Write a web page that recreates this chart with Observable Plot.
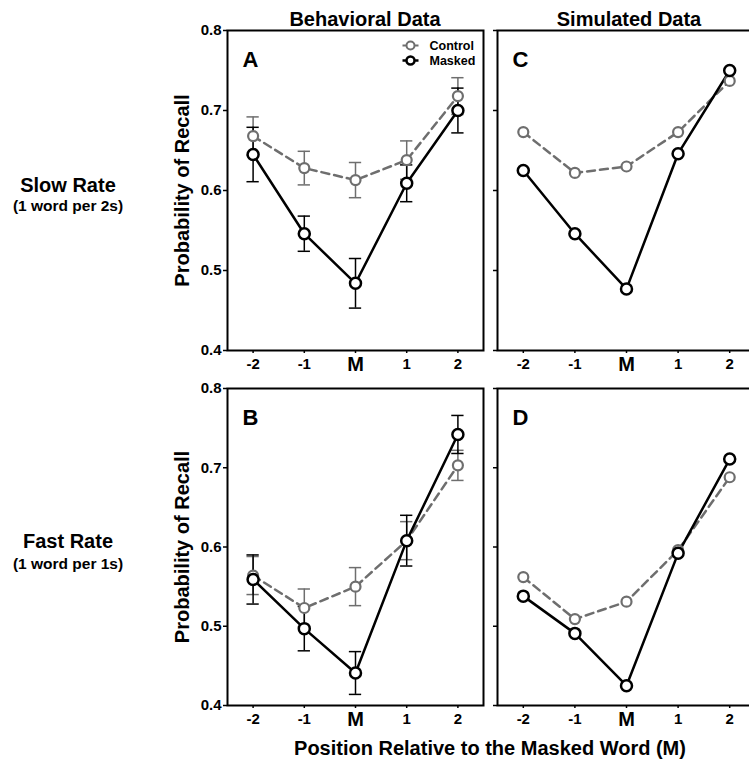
<!DOCTYPE html>
<html><head><meta charset="utf-8">
<script src="https://cdn.jsdelivr.net/npm/d3@7"></script>
<script src="https://cdn.jsdelivr.net/npm/@observablehq/plot@0.6"></script>
<style>
html,body{margin:0;padding:0;background:#fff;}
#page{position:relative;width:749px;height:765px;overflow:hidden;font-family:"Liberation Sans",Arial,sans-serif;font-weight:bold;color:#000;background:#fff;}
.lbl{position:absolute;white-space:nowrap;text-align:center;line-height:1;}
.panel{position:absolute;}
</style></head><body><div id="page"></div>
<script>
// ---- data ----
const positions = [-2, -1, 0, 1, 2];
const positionLabels = ["-2", "-1", "M", "1", "2"];
const yTicks = [0.4, 0.5, 0.6, 0.7, 0.8];
const columnTitles = ["Behavioral Data", "Simulated Data"];
const rowTitles = ["Slow Rate", "Fast Rate"];
const rowSubtitles = ["(1 word per 2s)", "(1 word per 1s)"];
const panelLetters = ["A", "C", "B", "D"];
const legendLabels = ["Control", "Masked"];
const yTitle = "Probability of Recall";
const xTitle = "Position Relative to the Masked Word (M)";

// A: behavioral, slow
const slowBehavControl    = [0.668, 0.628, 0.613, 0.638, 0.718];
const slowBehavControlErr = [0.024, 0.021, 0.022, 0.024, 0.023];
const slowBehavMasked     = [0.645, 0.546, 0.484, 0.609, 0.700];
const slowBehavMaskedErr  = [0.034, 0.022, 0.031, 0.023, 0.028];
// C: simulated, slow
const slowSimControl = [0.673, 0.622, 0.630, 0.673, 0.737];
const slowSimMasked  = [0.625, 0.546, 0.477, 0.646, 0.750];
// B: behavioral, fast
const fastBehavControl    = [0.564, 0.523, 0.550, 0.608, 0.703];
const fastBehavControlErr = [0.024, 0.024, 0.024, 0.024, 0.019];
const fastBehavMasked     = [0.559, 0.497, 0.441, 0.608, 0.742];
const fastBehavMaskedErr  = [0.031, 0.028, 0.027, 0.032, 0.024];
// D: simulated, fast
const fastSimControl = [0.562, 0.509, 0.531, 0.596, 0.688];
const fastSimMasked  = [0.538, 0.491, 0.425, 0.592, 0.711];

// ---- helpers ----
const GRAY = "#6e6e6e";
const labelOf = d => positionLabels[positions.indexOf(d)];

function rowsFor(control, masked, controlErr, maskedErr) {
  const rows = [];
  positions.forEach((p, i) => {
    rows.push({pos: p, value: control[i], err: controlErr ? controlErr[i] : null, cond: "Control"});
    rows.push({pos: p, value: masked[i], err: maskedErr ? maskedErr[i] : null, cond: "Masked"});
  });
  return rows;
}

const legendSymbol = {
  draw(ctx, size) {
    const r = Math.sqrt(size / Math.PI);
    ctx.moveTo(-2 * r, 0); ctx.lineTo(-r, 0);
    ctx.moveTo(2 * r, 0); ctx.lineTo(r, 0);
    ctx.moveTo(r, 0); ctx.arc(0, 0, r, 0, 2 * Math.PI); ctx.closePath();
  }
};

const cols = [
  {left: 160, width: 330, mL: 67, mR: 7},
  {left: 490, width: 270, mL: 7, mR: 5}
];
const rowsGeom = [
  {top: 0, height: 385, mT: 30, mB: 35},
  {top: 380, height: 345, mT: 8, mB: 20}
];

function panel(rows, col, row, letter, legend) {
  const c = cols[col], r = rowsGeom[row];
  const ctrl = rows.filter(d => d.cond === "Control");
  const mask = rows.filter(d => d.cond === "Masked");
  const ctrlE = ctrl.filter(d => d.err != null);
  const maskE = mask.filter(d => d.err != null);
  const capHalf = 0.12;
  const marks = [
    Plot.frame({stroke: "#000", strokeWidth: 2}),
    Plot.axisY({ticks: yTicks, tickSize: 4, tickPadding: 2, strokeWidth: 1.5, fontSize: 15,
      tickFormat: col === 0 ? d3.format(".1f") : () => "", label: null}),
    Plot.axisX({ticks: positions.filter(p => p !== 0), tickSize: 3, tickPadding: 5, strokeWidth: 1.5,
      fontSize: 15, tickFormat: labelOf, label: null}),
    Plot.axisX({ticks: [0], tickSize: 3, tickPadding: 3, strokeWidth: 1.5,
      fontSize: 20, tickFormat: labelOf, label: null}),
    // error bars
    Plot.ruleX(ctrlE, {x: "pos", y1: d => d.value - d.err, y2: d => d.value + d.err, stroke: GRAY, strokeWidth: 1.5}),
    Plot.ruleY(ctrlE, {y: d => d.value + d.err, x1: d => d.pos - capHalf, x2: d => d.pos + capHalf, stroke: GRAY, strokeWidth: 1.5}),
    Plot.ruleY(ctrlE, {y: d => d.value - d.err, x1: d => d.pos - capHalf, x2: d => d.pos + capHalf, stroke: GRAY, strokeWidth: 1.5}),
    Plot.ruleX(maskE, {x: "pos", y1: d => d.value - d.err, y2: d => d.value + d.err, stroke: "#000", strokeWidth: 1.5}),
    Plot.ruleY(maskE, {y: d => d.value + d.err, x1: d => d.pos - capHalf, x2: d => d.pos + capHalf, stroke: "#000", strokeWidth: 1.5}),
    Plot.ruleY(maskE, {y: d => d.value - d.err, x1: d => d.pos - capHalf, x2: d => d.pos + capHalf, stroke: "#000", strokeWidth: 1.5}),
    // lines
    Plot.line(ctrl, {x: "pos", y: "value", stroke: GRAY, strokeWidth: 2.5, strokeDasharray: "8,5"}),
    Plot.line(mask, {x: "pos", y: "value", stroke: "#000", strokeWidth: 2.5}),
    // dots
    Plot.dot(ctrl, {x: "pos", y: "value", r: 5, stroke: GRAY, strokeWidth: 2.2, fill: "white"}),
    Plot.dot(mask, {x: "pos", y: "value", r: 5.5, stroke: "#000", strokeWidth: 2.5, fill: "white"}),
    // panel letter
    Plot.text([letter], {text: d => d, frameAnchor: "top-left", dx: 15, dy: 29, textAnchor: "start",
      lineAnchor: "middle", fontSize: 22, fontWeight: "bold", fill: "#000"})
  ];
  if (col === 0) {
    marks.push(Plot.text([yTitle], {text: d => d, frameAnchor: "left", rotate: -90, dx: -45,
      textAnchor: "middle", lineAnchor: "middle", fontSize: 20, fontWeight: "bold", fill: "#000"}));
  }
  if (legend) {
    legendLabels.forEach((lab, i) => {
      const dy = 15 + 15 * i;
      const isCtrl = i === 0;
      marks.push(Plot.dot([lab], {frameAnchor: "top-right", dx: -73, dy, r: 4, symbol: legendSymbol,
        stroke: isCtrl ? GRAY : "#000", strokeWidth: isCtrl ? 2 : 2.5, fill: "white"}));
      marks.push(Plot.text([lab], {text: d => d, frameAnchor: "top-right", dx: -54, dy, textAnchor: "start",
        lineAnchor: "middle", fontSize: 12.5, fontWeight: "bold", fill: "#000"}));
    });
  }
  const svg = Plot.plot({
    width: c.width, height: r.height,
    marginLeft: c.mL, marginRight: c.mR, marginTop: r.mT, marginBottom: r.mB,
    x: {type: "linear", domain: [-2.5, 2.5], label: null},
    y: {type: "linear", domain: [0.4, 0.8], label: null},
    style: {background: "transparent", overflow: "visible", fontFamily: '"Liberation Sans", Arial, sans-serif',
      fontWeight: "bold", color: "#000"},
    marks
  });
  svg.classList.add("panel");
  svg.style.left = c.left + "px";
  svg.style.top = r.top + "px";
  svg.style.position = "absolute";
  svg.style.maxWidth = "none";
  return svg;
}

const page = document.getElementById("page");
page.appendChild(panel(rowsFor(slowBehavControl, slowBehavMasked, slowBehavControlErr, slowBehavMaskedErr), 0, 0, panelLetters[0], true));
page.appendChild(panel(rowsFor(slowSimControl, slowSimMasked), 1, 0, panelLetters[1], false));
page.appendChild(panel(rowsFor(fastBehavControl, fastBehavMasked, fastBehavControlErr, fastBehavMaskedErr), 0, 1, panelLetters[2], false));
page.appendChild(panel(rowsFor(fastSimControl, fastSimMasked), 1, 1, panelLetters[3], false));

function addLabel(text, cx, top, size) {
  const d = document.createElement("div");
  d.className = "lbl";
  d.textContent = text;
  d.style.fontSize = size + "px";
  d.style.top = top + "px";
  d.style.left = (cx - 200) + "px";
  d.style.width = "400px";
  page.appendChild(d);
}
addLabel(columnTitles[0], 365, 9, 20);
addLabel(columnTitles[1], 629, 9, 20);
addLabel(rowTitles[0], 68, 175, 20);
addLabel(rowSubtitles[0], 68, 198, 15.5);
addLabel(rowTitles[1], 68, 531, 20);
addLabel(rowSubtitles[1], 68, 556, 15.5);
addLabel(xTitle, 490, 738, 20);
</script>
</body></html>
